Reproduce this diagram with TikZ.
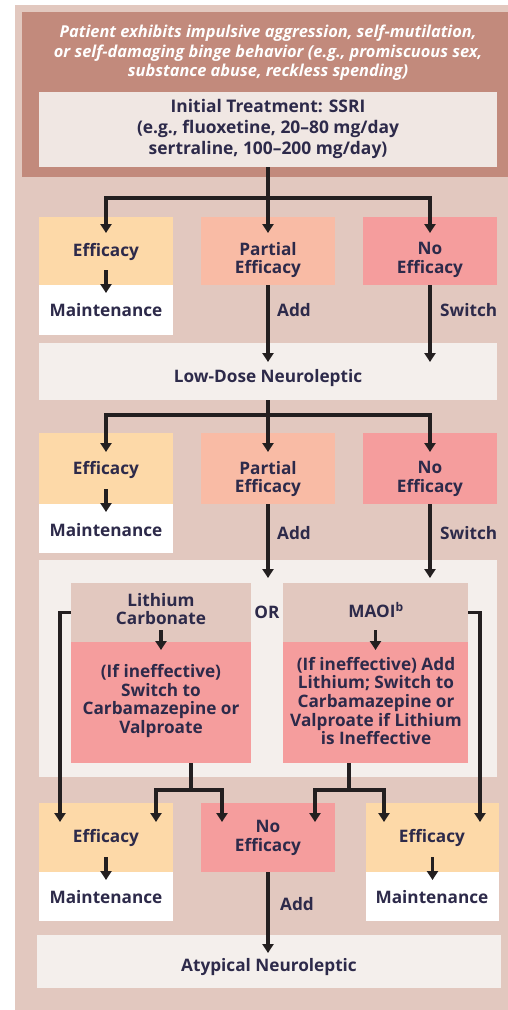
\documentclass[tikz,border=0pt]{standalone}
\usepackage{fontspec}
\setmainfont{Open Sans}
\usetikzlibrary{arrows.meta,calc}
\definecolor{panel}{HTML}{E2C8BF}
\definecolor{head}{HTML}{C28A7C}
\definecolor{ssric}{HTML}{F0E7E3}
\definecolor{cont}{HTML}{F4EFEC}
\definecolor{eff}{HTML}{FDD9A8}
\definecolor{part}{HTML}{F9BBA5}
\definecolor{noeff}{HTML}{F59D9D}
\definecolor{txt}{HTML}{2D2A4A}
\definecolor{arrc}{HTML}{231F20}
\begin{document}
\begin{tikzpicture}[x=1pt,y=-1pt,
  boxs/.style={rectangle,inner sep=0pt,outer sep=0pt,draw=none},
  lbl/.style={inner sep=0pt,align=center,text=txt,font=\fontsize{17.2}{18.6}\selectfont\bfseries},
  line/.style={draw=arrc,line width=3.5pt},
  arr/.style={line,-{Triangle[width=11pt,length=9pt]}}]
\useasboundingbox (0,0) rectangle (508,1010);
\fill[white] (0,0) rectangle (508,1010);
\fill[panel] (15,5) rectangle (508,1010);
% header
\node[boxs,fill=head,minimum width=486pt,minimum height=165pt] (head) at (265,94.5) {};
\node[inner sep=0pt,align=center,text=white,font=\fontsize{16.4}{19.5}\selectfont\bfseries\itshape] (headt) at (268,53)
 {Patient exhibits impulsive aggression, self-mutilation,\\or self-damaging binge behavior (e.g., promiscuous sex,\\substance abuse, reckless spending)};
\node[boxs,fill=ssric,minimum width=458pt,minimum height=75pt] (ssri) at (268,129.5) {};
\node[lbl,font=\fontsize{17.4}{21}\selectfont\bfseries] (ssrit) at (268,129)
 {Initial Treatment: SSRI\\(e.g., fluoxetine, 20–80 mg/day\\sertraline, 100–200 mg/day)};
% row 1
\node[boxs,fill=eff,minimum width=134pt,minimum height=68pt] (e1) at (106,251) {};
\node[boxs,fill=white,minimum width=134pt,minimum height=50pt] (m1) at (106,310) {};
\node[boxs,fill=part,minimum width=134pt,minimum height=68pt] (p1) at (268,251) {};
\node[boxs,fill=noeff,minimum width=134pt,minimum height=68pt] (n1) at (430,251) {};
\node[lbl] (e1t) at (106,252) {Efficacy};
\node[lbl] (m1t) at (106,310) {Maintenance};
\node[lbl] (p1t) at (268,260) {Partial\\Efficacy};
\node[lbl] (n1t) at (430,260) {No\\Efficacy};
\node[boxs,fill=cont,minimum width=458pt,minimum height=57pt] (low) at (268,371.5) {};
\node[lbl] (lowt) at (268,378) {Low-Dose Neuroleptic};
\coordinate (j1) at (268,198);
\draw[line] (ssri.south) -- (j1);
\draw[arr] (j1) -| ($(e1.north)+(0,16)$);
\draw[arr] (j1) -- ($(p1.north)+(0,16)$);
\draw[arr] (j1) -| ($(n1.north)+(0,16)$);
\draw[arr] ($(m1.north)+(0,-15)$) -- ($(m1.north)+(0,8)$);
\draw[arr] (p1.south) -- ($(low.north -| p1.south)+(0,19)$);
\draw[arr] (n1.south) -- ($(low.north -| n1.south)+(0,19)$);
\node[lbl,anchor=west] (add1) at (277,310) {Add};
\node[lbl,anchor=west] (sw1) at (440,310) {Switch};
% row 2
\node[boxs,fill=eff,minimum width=134pt,minimum height=71pt] (e2) at (106,468.5) {};
\node[boxs,fill=white,minimum width=134pt,minimum height=49pt] (m2) at (106,528.5) {};
\node[boxs,fill=part,minimum width=134pt,minimum height=71pt] (p2) at (268,468.5) {};
\node[boxs,fill=noeff,minimum width=134pt,minimum height=71pt] (n2) at (430,468.5) {};
\node[lbl] (e2t) at (106,470) {Efficacy};
\node[lbl] (m2t) at (106,530) {Maintenance};
\node[lbl] (p2t) at (268,479) {Partial\\Efficacy};
\node[lbl] (n2t) at (430,479) {No\\Efficacy};
\coordinate (j2) at (268,415);
\draw[line] (low.south) -- (j2);
\draw[arr] (j2) -| ($(e2.north)+(0,19)$);
\draw[arr] (j2) -- ($(p2.north)+(0,19)$);
\draw[arr] (j2) -| ($(n2.north)+(0,19)$);
\draw[arr] ($(m2.north)+(0,-15)$) -- ($(m2.north)+(0,8)$);
% container
\node[boxs,fill=cont,minimum width=458pt,minimum height=217pt] (cont) at (268,668.5) {};
\draw[arr] (p2.south) -- ($(cont.north -| p2.south)+(0,18)$);
\draw[arr] (n2.south) -- ($(cont.north -| n2.south)+(0,18)$);
\node[lbl,anchor=west] (add2) at (277,533) {Add};
\node[lbl,anchor=west] (sw2) at (440,533) {Switch};
\node[boxs,fill=panel,minimum width=180pt,minimum height=59pt] (lt) at (161,612.5) {};
\node[boxs,fill=noeff,minimum width=180pt,minimum height=121pt] (lb) at (161,702.5) {};
\node[boxs,fill=panel,minimum width=185pt,minimum height=59pt] (mt) at (375.5,612.5) {};
\node[boxs,fill=noeff,minimum width=185pt,minimum height=121pt] (mb) at (375.5,702.5) {};
\node[lbl] (ltt) at (161,609) {Lithium\\Carbonate};
\node[lbl] (mtt) at (376,610) {MAOI\textsuperscript{b}};
\node[lbl] (or) at (267,612) {OR};
\node[lbl] (lbt) at (161,701) {(If ineffective)\\Switch to\\Carbamazepine or\\Valproate};
\node[lbl] (mbt) at (376,701) {(If ineffective) Add\\Lithium; Switch to\\Carbamazepine or\\Valproate if Lithium\\is Ineffective};
\draw[arr] ($(lt.south)+(0,-12)$) -- ($(lb.north)+(0,8)$);
\draw[arr] ($(mt.south)+(0,-12)$) -- ($(mb.north)+(0,8)$);
% row 3
\node[boxs,fill=eff,minimum width=134pt,minimum height=69pt] (e3) at (106,837.5) {};
\node[boxs,fill=white,minimum width=134pt,minimum height=49pt] (m3) at (106,896.5) {};
\node[boxs,fill=noeff,minimum width=134pt,minimum height=69pt] (ne3) at (268,837.5) {};
\node[boxs,fill=eff,minimum width=133pt,minimum height=69pt] (e4) at (432.5,837.5) {};
\node[boxs,fill=white,minimum width=133pt,minimum height=49pt] (m4) at (432.5,896.5) {};
\node[lbl] (e3t) at (106,838) {Efficacy};
\node[lbl] (m3t) at (106,897) {Maintenance};
\node[lbl] (ne3t) at (268,838) {No\\Efficacy};
\node[lbl] (e4t) at (432,838) {Efficacy};
\node[lbl] (m4t) at (432,897) {Maintenance};
\draw[arr] ($(m3.north)+(0,-15)$) -- ($(m3.north)+(0,8)$);
\draw[arr] ($(m4.north)+(0,-15)$) -- ($(m4.north)+(0,8)$);
\draw[arr] (lt.west) -| ($(e3.north west)+(21,19)$);
\draw[arr] (mt.east) -| ($(e4.north east)+(-19,19)$);
\coordinate (lj) at ($(lb.south)+(30,27)$);
\draw[line] ($(lb.south)+(30,0)$) -- (lj);
\draw[arr] (lj) -| ($(e3.north east)+(-17,19)$);
\draw[arr] (lj) -| ($(ne3.north west)+(21,19)$);
\coordinate (mj) at ($(mb.south)+(-26.5,27)$);
\draw[line] ($(mb.south)+(-26.5,0)$) -- (mj);
\draw[arr] (mj) -| ($(ne3.north east)+(-20,19)$);
\draw[arr] (mj) -| ($(e4.north west)+(18,19)$);
\node[boxs,fill=cont,minimum width=464pt,minimum height=53pt] (atyp) at (269,961.5) {};
\node[lbl] (atypt) at (269,967) {Atypical Neuroleptic};
\draw[arr] (ne3.south) -- ($(atyp.north -| ne3.south)+(0,18)$);
\node[lbl,anchor=west] (add3) at (280,904) {Add};
\end{tikzpicture}
\end{document}
